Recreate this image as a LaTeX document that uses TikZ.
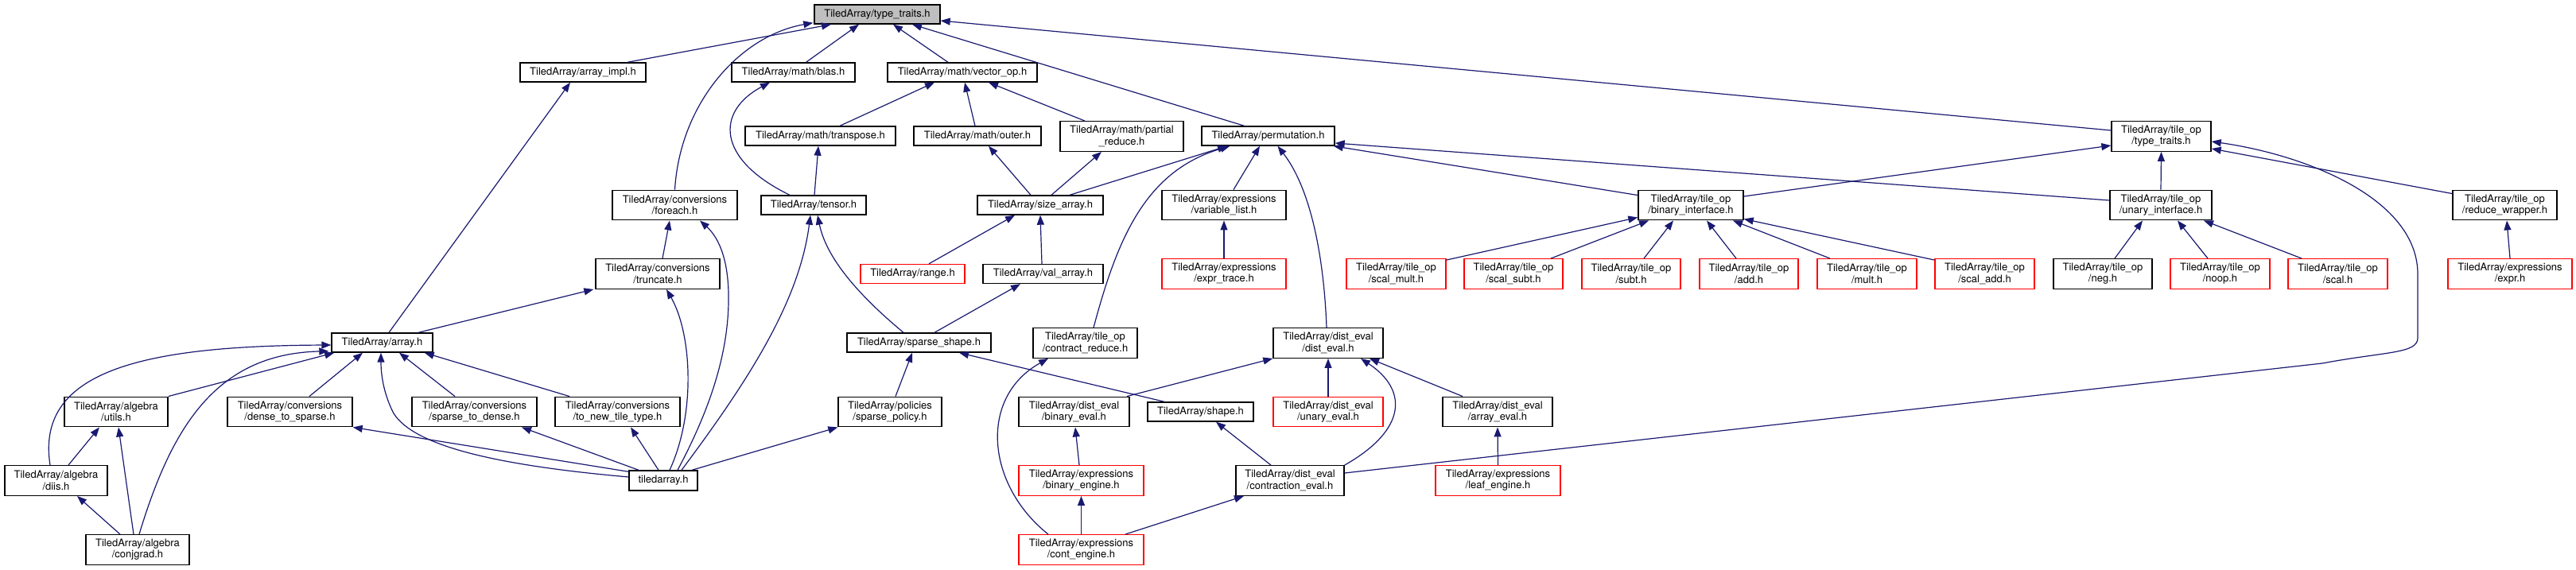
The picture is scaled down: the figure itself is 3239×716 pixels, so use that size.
\documentclass[tikz,border=0pt]{standalone}
\usepackage{fontspec}
\setmainfont{TeX Gyre Heros}
\usetikzlibrary{arrows.meta}
\definecolor{edgec}{HTML}{191970}
\tikzset{
  box/.style={draw=black, line width=1.4pt, fill=white, inner sep=0pt, align=center,
    font=\fontsize{13}{14.3}\selectfont, minimum height=24pt},
  two/.style={minimum height=37.5pt},
  rbox/.style={box, draw=red},
  e/.style={draw=edgec, line width=1.2pt, -{Triangle[length=12pt,width=9pt]}},
}
\begin{document}
\begin{tikzpicture}[x=1pt,y=-1pt]
\useasboundingbox (0,0) rectangle (3239,716);
% row 0
\node[box, fill=gray!50, minimum width=158pt] (tt) at (1103,18) {TiledArray/type\_traits.h};
% row 1
\node[box, minimum width=158pt] (arrimpl) at (733,91) {TiledArray/array\_impl.h};
\node[box, minimum width=155pt] (blas) at (997.5,91) {TiledArray/math/blas.h};
\node[box, minimum width=188pt] (vecop) at (1210,91) {TiledArray/math/vector\_op.h};
% row 2
\node[box, minimum width=189pt] (transp) at (1031.5,171) {TiledArray/math/transpose.h};
\node[box, minimum width=160pt] (outer) at (1229,171) {TiledArray/math/outer.h};
\node[box, two, minimum width=155pt] (partial) at (1410.5,171.5) {TiledArray/math/partial\\\_reduce.h};
\node[box, minimum width=167pt] (perm) at (1594.5,171) {TiledArray/permutation.h};
\node[box, two, minimum width=125pt] (ttt) at (2717.5,171.5) {TiledArray/tile\_op\\/type\_traits.h};
% row 3
\node[box, two, minimum width=157pt] (foreach) at (848.5,258) {TiledArray/conversions\\/foreach.h};
\node[box, minimum width=132pt] (tensor) at (1023,258) {TiledArray/tensor.h};
\node[box, minimum width=158pt] (sizearr) at (1308,258) {TiledArray/size\_array.h};
\node[box, two, minimum width=156pt] (varlist) at (1539,258) {TiledArray/expressions\\/variable\_list.h};
\node[box, two, minimum width=132pt] (binif) at (2126,258) {TiledArray/tile\_op\\/binary\_interface.h};
\node[box, two, minimum width=128pt] (unif) at (2717,258) {TiledArray/tile\_op\\/unary\_interface.h};
\node[box, two, minimum width=131pt] (redwr) at (3149.5,258) {TiledArray/tile\_op\\/reduce\_wrapper.h};
% row 4
\node[box, two, minimum width=156pt] (truncate) at (827,344.5) {TiledArray/conversions\\/truncate.h};
\node[rbox, minimum width=131pt] (range) at (1147.5,344.5) {TiledArray/range.h};
\node[box, minimum width=151pt] (valarr) at (1311.5,344.5) {TiledArray/val\_array.h};
\node[rbox, two, minimum width=156pt] (exprtrace) at (1539,344.5) {TiledArray/expressions\\/expr\_trace.h};
\node[rbox, two, minimum width=125pt] (scalmult) at (1755.5,344.5) {TiledArray/tile\_op\\/scal\_mult.h};
\node[rbox, two, minimum width=124pt] (scalsubt) at (1903,344.5) {TiledArray/tile\_op\\/scal\_subt.h};
\node[rbox, two, minimum width=124pt] (subt) at (2051,344.5) {TiledArray/tile\_op\\/subt.h};
\node[rbox, two, minimum width=124pt] (add) at (2199,344.5) {TiledArray/tile\_op\\/add.h};
\node[rbox, two, minimum width=125pt] (mult) at (2347.5,344.5) {TiledArray/tile\_op\\/mult.h};
\node[rbox, two, minimum width=125pt] (scaladd) at (2495.5,344.5) {TiledArray/tile\_op\\/scal\_add.h};
\node[box, two, minimum width=124pt] (neg) at (2644,344.5) {TiledArray/tile\_op\\/neg.h};
\node[rbox, two, minimum width=125pt] (noop) at (2791.5,344.5) {TiledArray/tile\_op\\/noop.h};
\node[rbox, two, minimum width=125pt] (scal) at (2939.5,344.5) {TiledArray/tile\_op\\/scal.h};
\node[rbox, two, minimum width=156pt] (expr) at (3156,344.5) {TiledArray/expressions\\/expr.h};
% row 5
\node[box, minimum width=127pt] (array) at (480.5,431) {TiledArray/array.h};
\node[box, minimum width=181pt] (sparseshape) at (1155.5,431) {TiledArray/sparse\_shape.h};
\node[box, two, minimum width=131pt] (contred) at (1364.5,431.5) {TiledArray/tile\_op\\/contract\_reduce.h};
\node[box, two, minimum width=138pt] (disteval) at (1670,431.5) {TiledArray/dist\_eval\\/dist\_eval.h};
% row 6
\node[box, two, minimum width=130pt] (utils) at (146,518) {TiledArray/algebra\\/utils.h};
\node[box, two, minimum width=157pt] (d2s) at (364.5,518) {TiledArray/conversions\\/dense\_to\_sparse.h};
\node[box, two, minimum width=157pt] (s2d) at (596.5,518) {TiledArray/conversions\\/sparse\_to\_dense.h};
\node[box, two, minimum width=157pt] (tnt) at (776.5,518) {TiledArray/conversions\\/to\_new\_tile\_type.h};
\node[box, two, minimum width=130pt] (spolicy) at (1119,518) {TiledArray/policies\\/sparse\_policy.h};
\node[box, two, minimum width=139pt] (bineval) at (1350.5,518) {TiledArray/dist\_eval\\/binary\_eval.h};
\node[box, minimum width=133pt] (shape) at (1509.5,518) {TiledArray/shape.h};
\node[rbox, two, minimum width=138pt] (uneval) at (1670,518) {TiledArray/dist\_eval\\/unary\_eval.h};
\node[box, two, minimum width=138pt] (arreval) at (1883,518) {TiledArray/dist\_eval\\/array\_eval.h};
% row 7
\node[box, two, minimum width=129pt] (diis) at (70.5,604.5) {TiledArray/algebra\\/diis.h};
\node[box, minimum width=86pt, minimum height=25pt] (tiledarray) at (834,604.5) {tiledarray.h};
\node[rbox, two, minimum width=157pt] (binengine) at (1359.5,604.5) {TiledArray/expressions\\/binary\_engine.h};
\node[box, two, minimum width=136pt] (contreval) at (1622,604.5) {TiledArray/dist\_eval\\/contraction\_eval.h};
\node[rbox, two, minimum width=157pt] (leafengine) at (1883.5,604.5) {TiledArray/expressions\\/leaf\_engine.h};
% row 8
\node[box, two, minimum width=130pt] (conjgrad) at (173,691.5) {TiledArray/algebra\\/conjgrad.h};
\node[rbox, two, minimum width=157pt] (contengine) at (1359.5,691.5) {TiledArray/expressions\\/cont\_engine.h};

% edges into type_traits.h
\draw[e] ([xshift=56pt]arrimpl.north) -- ([xshift=-58pt]tt.south);
\draw[e] (foreach.north) .. controls (855,130) and (930,45) .. ([xshift=-1pt,yshift=2pt]tt.south west);
\draw[e] ([xshift=16pt]blas.north) -- ([xshift=-23pt]tt.south);
\draw[e] ([xshift=-18pt]vecop.north) -- ([xshift=20pt]tt.south);
\draw[e] ([xshift=-30pt]perm.north) -- ([xshift=44pt]tt.south);
\draw[e] ([yshift=7.5pt]ttt.west) -- ([yshift=-8pt]tt.east);
% math
\draw[e] ([xshift=-30pt]tensor.north) .. controls (900,200) and (900,140) .. ([xshift=-29.5pt]blas.south);
\draw[e] ([xshift=1pt]tensor.north) -- ([xshift=-2.5pt]transp.south);
\draw[e] ([xshift=24.5pt]transp.north) -- ([xshift=-35pt]vecop.south);
\draw[e] ([xshift=-3pt]outer.north) -- ([xshift=3pt]vecop.south);
\draw[e] ([xshift=-46.5pt]partial.north) -- ([xshift=33pt]vecop.south);
\draw[e] ([xshift=-12pt]sizearr.north) -- ([xshift=14pt]outer.south);
\draw[e] ([xshift=14pt]sizearr.north) -- ([xshift=-25.5pt]partial.south);
% permutation
\draw[e] ([xshift=37pt]sizearr.north) -- ([xshift=-51.5pt]perm.south);
\draw[e] ([xshift=10.5pt]contred.north) .. controls (1405,300) and (1440,215) .. ([xshift=-48pt]perm.south);
\draw[e] ([xshift=12pt]varlist.north) -- ([xshift=-10.5pt]perm.south);
\draw[e] ([xshift=-2pt]disteval.north) .. controls (1665,330) and (1650,240) .. ([xshift=12pt]perm.south);
\draw[e] ([yshift=-7pt]binif.north west) -- ([xshift=-2pt]perm.south east);
\draw[e] ([yshift=6pt]unif.west) -- ([yshift=-9pt]perm.east);
% tile_op/type_traits
\draw[e] ([yshift=11pt]binif.east) -- ([yshift=-11.5pt]ttt.west);
\draw[e] (unif.north) -- (ttt.south);
\draw[e] ([yshift=-5pt]redwr.north west) -- ([yshift=-15.5pt]ttt.east);
\draw[e] ([yshift=9.5pt]contreval.east) -- (2920,457) .. controls (3000,442) and (3040,445) .. (3040,425) -- (3040,345) .. controls (3040,250) and (2900,195) .. ([yshift=-6.5pt]ttt.east);
% array.h and friends
\draw[e] ([xshift=8.5pt]array.north) -- ([xshift=-16pt]arrimpl.south);
\draw[e] ([xshift=45.5pt]array.north) -- ([xshift=-2pt]truncate.south west);
\draw[e] (utils.north east) -- ([xshift=4pt]array.south west);
\draw[e] ([xshift=-7.5pt]diis.north) .. controls (45,470) and (170,435) .. ([yshift=-3pt]array.west);
\draw[e] ([xshift=2pt]conjgrad.north) .. controls (215,540) and (270,445) .. ([xshift=-3pt,yshift=2pt]array.south west);
\draw[e] ([xshift=24.5pt]d2s.north) -- ([xshift=-24.5pt]array.south);
\draw[e] ([yshift=4.5pt]tiledarray.west) .. controls (620,585) and (520,560) .. (495,520) .. controls (482,495) and (479,470) .. ([xshift=-1.5pt]array.south);
\draw[e] ([xshift=-24.5pt]s2d.north) -- ([xshift=21.5pt]array.south);
\draw[e] ([xshift=-60.5pt]tnt.north) -- ([xshift=-11pt]array.south east);
\draw[e] ([xshift=15.5pt]diis.north) -- ([xshift=-21pt]utils.south);
\draw[e] ([xshift=-5pt]conjgrad.north) -- ([xshift=3pt]utils.south);
\draw[e] ([xshift=-22pt]conjgrad.north) -- ([xshift=26.5pt]diis.south);
% tiledarray.h
\draw[e] ([yshift=-2pt]tiledarray.north west) -- (d2s.south east);
\draw[e] ([xshift=-31pt]tiledarray.north) -- ([xshift=59.5pt]s2d.south);
\draw[e] ([xshift=-6pt]tiledarray.north) -- ([xshift=16.5pt]tnt.south);
\draw[e] ([xshift=8pt]tiledarray.north) .. controls (875,520) and (870,420) .. ([xshift=11pt]truncate.south);
\draw[e] ([xshift=18pt]tiledarray.north) .. controls (890,520) and (915,450) .. (916,380) .. controls (917,330) and (905,300) .. ([xshift=31.5pt]foreach.south);
\draw[e] ([xshift=23pt]tiledarray.north) .. controls (940,480) and (1005,380) .. ([xshift=-4pt]tensor.south);
\draw[e] ([xshift=36pt]tiledarray.north) -- (spolicy.south west);
\draw[e] ([xshift=6pt]truncate.north) -- ([xshift=-6.5pt]foreach.south);
% size_array etc.
\draw[e] ([xshift=20.5pt]range.north) -- ([xshift=-32pt]sizearr.south);
\draw[e] ([xshift=-1.5pt]valarr.north) -- (sizearr.south);
\draw[e] (exprtrace.north) -- (varlist.south);
% binary interface
\draw[e] ([yshift=-2pt]scalmult.north east) -- ([yshift=4pt]binif.south west);
\draw[e] ([xshift=47pt]scalsubt.north) -- ([xshift=-53pt]binif.south);
\draw[e] ([xshift=16pt]subt.north) -- ([xshift=-22pt]binif.south);
\draw[e] ([xshift=-16pt]add.north) -- ([xshift=20pt]binif.south);
\draw[e] ([xshift=-46.5pt]mult.north) -- ([xshift=53pt]binif.south);
\draw[e] ([yshift=-2pt]scaladd.north west) -- ([yshift=2pt]binif.south east);
% unary interface
\draw[e] ([xshift=15pt]neg.north) -- ([xshift=-23pt]unif.south);
\draw[e] ([xshift=-15.5pt]noop.north) -- ([xshift=21pt]unif.south);
\draw[e] ([xshift=-45.5pt]scal.north) -- ([xshift=54pt]unif.south);
\draw[e] (expr.north) -- ([xshift=2.5pt]redwr.south);
% sparse shape
\draw[e] ([xshift=19.5pt]sparseshape.north) -- ([xshift=-28.5pt]valarr.south);
\draw[e] ([xshift=-19.5pt]sparseshape.north) .. controls (1090,380) and (1040,330) .. ([xshift=5pt]tensor.south);
\draw[e] ([xshift=7pt]spolicy.north) -- ([xshift=-8.5pt]sparseshape.south);
\draw[e] ([xshift=-45.5pt]shape.north) -- ([xshift=50.5pt]sparseshape.south);
% dist_eval
\draw[e] ([xshift=66.5pt]bineval.north) -- (disteval.south west);
\draw[e] (uneval.north) -- (disteval.south);
\draw[e] (contreval.north east) .. controls (1770,540) and (1770,490) .. ([xshift=41pt]disteval.south);
\draw[e] ([xshift=-44pt]arreval.north) -- ([xshift=52pt]disteval.south);
\draw[e] ([xshift=-2.5pt]binengine.north) -- ([xshift=1.5pt]bineval.south);
\draw[e] ([xshift=-24pt]contreval.north) -- ([xshift=19.5pt]shape.south);
\draw[e] (leafengine.north) -- (arreval.south);
% cont_engine
\draw[e] (contengine.north) -- (binengine.south);
\draw[e] ([xshift=55.5pt]contengine.north) -- ([xshift=-58pt]contreval.south);
\draw[e] ([xshift=-41.5pt]contengine.north) .. controls (1240,610) and (1230,500) .. ([xshift=-46.5pt]contred.south);
\end{tikzpicture}
\end{document}
